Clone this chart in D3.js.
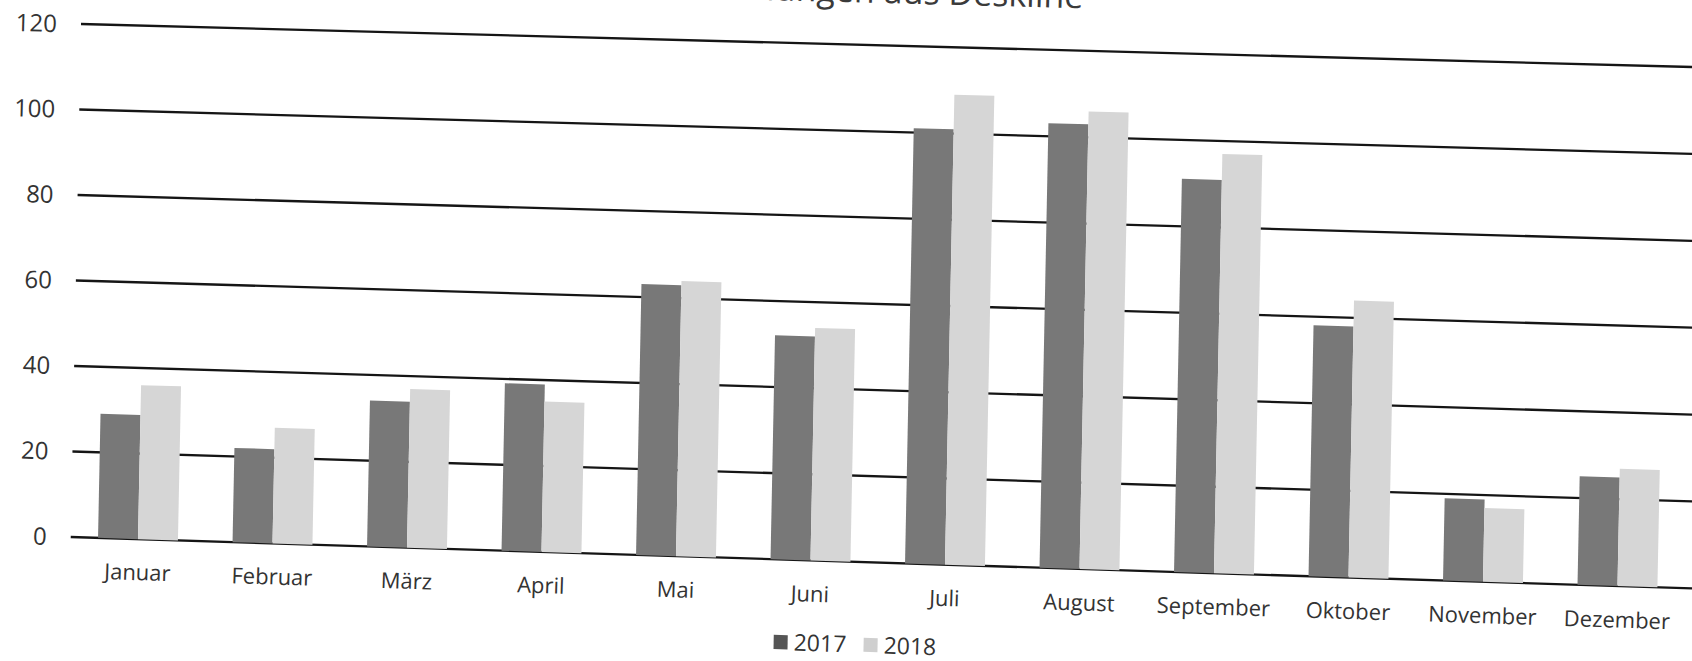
<!DOCTYPE html>
<html>
<head>
<meta charset="utf-8">
<script src="https://cdn.jsdelivr.net/npm/d3@7"></script>
<style>
  html, body { margin: 0; padding: 0; background: #fff; overflow: hidden; }
  svg { display: block; font-family: "Open Sans", "DejaVu Sans", sans-serif; }
</style>
</head>
<body>
<svg id="chart" width="1692" height="661"></svg>
<script>
// values
var months = ["Januar", "Februar", "März", "April", "Mai", "Juni", "Juli", "August", "September", "Oktober", "November", "Dezember"];
var seriesNames = ["2017", "2018"];
var values2017 = [29, 22, 34, 39, 63, 52, 101, 103, 91, 58, 19, 25];
var values2018 = [36, 27, 37, 35, 64, 54, 109, 106, 97, 64, 17, 27];
var yTicks = [0, 20, 40, 60, 80, 100, 120];
var title = "Buchungen aus Deskline";

var colors = {"2017": "#787878", "2018": "#d6d6d6"};

var svg = d3.select("#chart");

// flat chart frame (before the scan skew is applied)
var plotLeft = 81, plotRight = 1696, plotTop = 24, plotBottom = 537;

// the sheet was scanned slightly crooked: lines drop to the right, a bit more at the bottom
function proj(px, py) {
    var t = (px - plotLeft) / (1692 - plotLeft);
    var s = (py - plotTop) / (plotBottom - plotTop);
    var yi = plotTop + t * 43 + s * ((plotBottom - plotTop) + t * 8);
    var xi = px - 0.02 * (yi - plotTop);
    return [xi, yi];
}
function angleAt(py) {
    var s = (py - plotTop) / (plotBottom - plotTop);
    return Math.atan((43 + 8 * s) / (1692 - plotLeft)) * 180 / Math.PI;
}
function poly(x0, y0, x1, y1) {
    var pts = [proj(x0, y0), proj(x1, y0), proj(x1, y1), proj(x0, y1)];
    return "M" + pts.map(function(p){ return p[0].toFixed(2) + "," + p[1].toFixed(2); }).join("L") + "Z";
}
function placeText(px, py) {
    var p = proj(px, py);
    return "translate(" + p[0].toFixed(2) + "," + p[1].toFixed(2) + ") rotate(" + angleAt(py).toFixed(3) + ")";
}

var x = d3.scaleBand()
    .domain(months)
    .range([plotLeft, plotRight])
    .paddingInner(0.406)
    .paddingOuter(0.203);

var xSeries = d3.scaleBand()
    .domain(seriesNames)
    .range([0, x.bandwidth()]);

var y = d3.scaleLinear()
    .domain([0, 120])
    .range([plotBottom, plotTop]);

var data = months.map(function(m, i) {
    return {month: m, values: [
        {key: "2017", value: values2017[i]},
        {key: "2018", value: values2018[i]}
    ]};
});

// title (cut off at the top edge in the scan)
svg.append("text")
    .attr("transform", placeText((plotLeft + plotRight) / 2, -18))
    .attr("text-anchor", "middle")
    .attr("font-size", 34)
    .attr("fill", "#3a3a3a")
    .text(title);

// gridlines
svg.append("g")
  .selectAll("path")
  .data(yTicks)
  .enter().append("path")
    .attr("d", function(d) {
        var a = proj(plotLeft, y(d)), b = proj(1760, y(d));
        return "M" + a[0] + "," + a[1] + "L" + b[0] + "," + b[1];
    })
    .attr("stroke", "#151515")
    .attr("stroke-width", 2.3)
    .attr("fill", "none");

// y tick labels
svg.append("g")
  .selectAll("text")
  .data(yTicks)
  .enter().append("text")
    .attr("transform", function(d) { return placeText(57, y(d)); })
    .attr("dy", "0.36em")
    .attr("text-anchor", "end")
    .attr("font-size", 24)
    .attr("fill", "#333")
    .text(function(d) { return d; });

// bars
svg.append("g")
  .selectAll("g")
  .data(data)
  .enter().append("g")
  .selectAll("path")
  .data(function(d) { return d.values.map(function(v){ return {month: d.month, key: v.key, value: v.value}; }); })
  .enter().append("path")
    .attr("d", function(d) {
        var bx = x(d.month) + xSeries(d.key);
        return poly(bx, y(d.value), bx + xSeries.bandwidth(), y(0));
    })
    .attr("fill", function(d) { return colors[d.key]; });

// month labels
svg.append("g")
  .selectAll("text")
  .data(months)
  .enter().append("text")
    .attr("transform", function(d) { return placeText(x(d) + x.bandwidth() / 2, 578); })
    .attr("text-anchor", "middle")
    .attr("font-size", 22)
    .attr("fill", "#333")
    .text(function(d) { return d; });

// legend
var legend = svg.append("g")
  .selectAll("g")
  .data(seriesNames)
  .enter().append("g");

legend.append("path")
    .attr("d", function(d, i) { var lx = 786 + i * 90; return poly(lx, 612, lx + 14, 626); })
    .attr("fill", function(d) { return d === "2017" ? "#555" : "#cfcfcf"; });

legend.append("text")
    .attr("transform", function(d, i) { return placeText(786 + i * 90 + 20, 627); })
    .attr("font-size", 23)
    .attr("fill", "#333")
    .text(function(d) { return d; });
</script>
</body>
</html>
